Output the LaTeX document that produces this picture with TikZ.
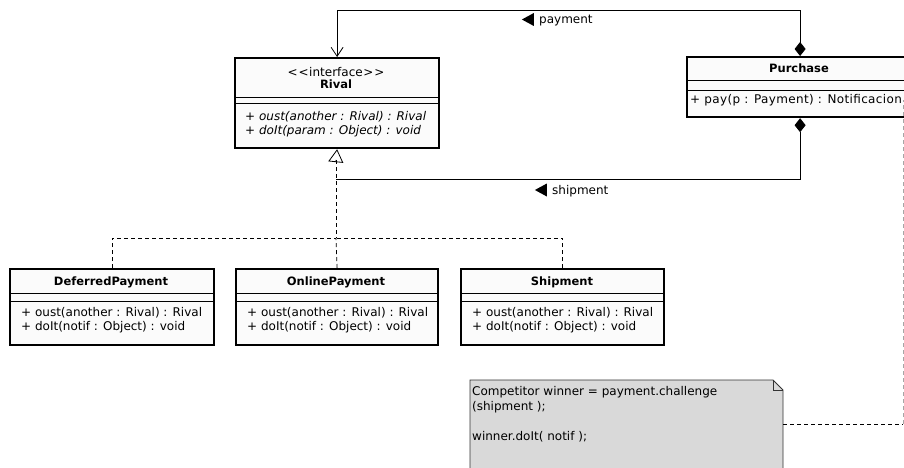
\documentclass[tikz,border=0pt]{standalone}
\usepackage{fontspec}
\setmainfont{DejaVu Sans}
\usetikzlibrary{arrows.meta,shapes.geometric}
\definecolor{boxfill}{HTML}{FBFBFB}
\definecolor{notefill}{HTML}{D9D9D9}
\begin{document}
\begin{tikzpicture}[x=1pt,y=-1pt,
  classbox/.style={draw, line width=2.2pt, fill=boxfill, inner sep=0pt, anchor=north west},
  sepline/.style={line width=0.8pt},
  txt/.style={inner sep=0pt, anchor=base, font=\fontsize{12}{14}\selectfont},
  ttl/.style={inner sep=0pt, anchor=base, font=\fontsize{11.5}{14}\selectfont\bfseries},
  meth/.style={txt, anchor=base west},
  imeth/.style={meth, font=\fontsize{12}{14}\selectfont\itshape},
  conn/.style={line width=0.8pt},
  gen/.style={conn, dash pattern=on 4pt off 3pt},
  navtri/.style={fill=black, isosceles triangle, shape border rotate=180, minimum height=12pt, minimum width=13pt, inner sep=0pt, isosceles triangle stretches},
]
\useasboundingbox (0,0) rectangle (904,468);
\fill[white] (0,0) rectangle (904,468);

% Rival
\node[classbox, minimum width=204pt, minimum height=90pt] (rival) at (234,57) {};
\draw[sepline] (234,97) -- (438,97);
\draw[sepline] (234,103) -- (438,103);
\node[txt] (rivS) at (336,77) {<\kern1pt<\kern0.5pt interface\kern0.5pt>\kern1pt>};
\node[ttl] (rivT) at (336,89) {Rival};
\node[imeth] (rivM1) at (245,121) {+ oust(another : Rival) : Rival};
\node[imeth] (rivM2) at (245,135) {+ doIt(param : Object) : void};

% Purchase
\node[classbox, minimum width=226pt, minimum height=60pt] (pu) at (686,56) {};
\draw[sepline] (686,80) -- (912,80);
\draw[sepline] (686,90) -- (912,90);
\node[ttl] (puT) at (799,73) {Purchase};
\node[meth] (puM) at (690,104) {\addfontfeature{LetterSpace=3}+ pay(p : Payment) : Notificacion};

% DeferredPayment
\node[classbox, minimum width=204pt, minimum height=76pt] (dp) at (9,268) {};
\draw[sepline] (9,293) -- (213,293);
\draw[sepline] (9,301) -- (213,301);
\node[ttl] (dpT) at (111,285) {DeferredPayment};
\node[meth] (dpM1) at (21,316) {+ oust(another : Rival) : Rival};
\node[meth] (dpM2) at (21,330) {+ doIt(notif : Object) : void};

% OnlinePayment
\node[classbox, minimum width=202pt, minimum height=76pt] (op) at (235,268) {};
\draw[sepline] (235,293) -- (437,293);
\draw[sepline] (235,301) -- (437,301);
\node[ttl] (opT) at (336,285) {OnlinePayment};
\node[meth] (opM1) at (247,316) {+ oust(another : Rival) : Rival};
\node[meth] (opM2) at (247,330) {+ doIt(notif : Object) : void};

% Shipment
\node[classbox, minimum width=203pt, minimum height=76pt] (sh) at (460,268) {};
\draw[sepline] (460,293) -- (663,293);
\draw[sepline] (460,301) -- (663,301);
\node[ttl] (shT) at (562,285) {Shipment};
\node[meth] (shM1) at (472,316) {+ oust(another : Rival) : Rival};
\node[meth] (shM2) at (472,330) {+ doIt(notif : Object) : void};

% payment association
\draw[conn, {Diamond[length=14pt,width=11pt]}-{Straight Barb[length=9pt,width=12pt,line width=0.8pt]}]
  (pu.north) -- (pu.north |- 0,10) -| (rival.north);
\node[navtri] (payTri) at (530,19.5) {};
\node[txt, anchor=base west] (payL) at (539,24) {payment};

% shipment association
\coordinate (shipJ) at (336,179);
\draw[conn, {Diamond[length=14pt,width=11pt]}-] (pu.south) |- (shipJ);
\node[navtri] (shipTri) at (543,190) {};
\node[txt, anchor=base west] (shipL) at (552,194) {shipment};

% generalization
\coordinate (gTop) at (336,160);
\coordinate (gBus) at (336,238);
\draw[conn, -{Triangle[open, length=13pt, width=15pt, line width=0.8pt]}] (gTop) -- (rival.south);
\draw[gen] (gTop) -- (gBus);
\draw[gen] (dp.north) |- (gBus);
\draw[gen] (sh.north) |- (gBus);
\draw[gen] (op.north) -- (gBus);

% note
\fill[notefill] (470,380) -- (773,380) -- (783,390) -- (783,472) -- (470,472) -- cycle;
\draw[line width=0.8pt, black!80] (470,472) -- (470,380) -- (773,380) -- (783,390) -- (783,472);
\draw[line width=0.8pt, black!80] (773,380) -- (773,390) -- (783,390);
\coordinate (noteR) at (783,424);
\coordinate (puR) at (903,100);
\node[meth] (n1) at (472,395) {Competitor winner = payment.challenge};
\node[meth] (n2) at (472,410) {(shipment );};
\node[meth] (n3) at (472,440) {winner.doIt( notif );};
\draw[gen] (noteR) -- (noteR -| puR);
\draw[gen, black!35] (noteR -| puR) -- (puR);
\end{tikzpicture}
\end{document}
